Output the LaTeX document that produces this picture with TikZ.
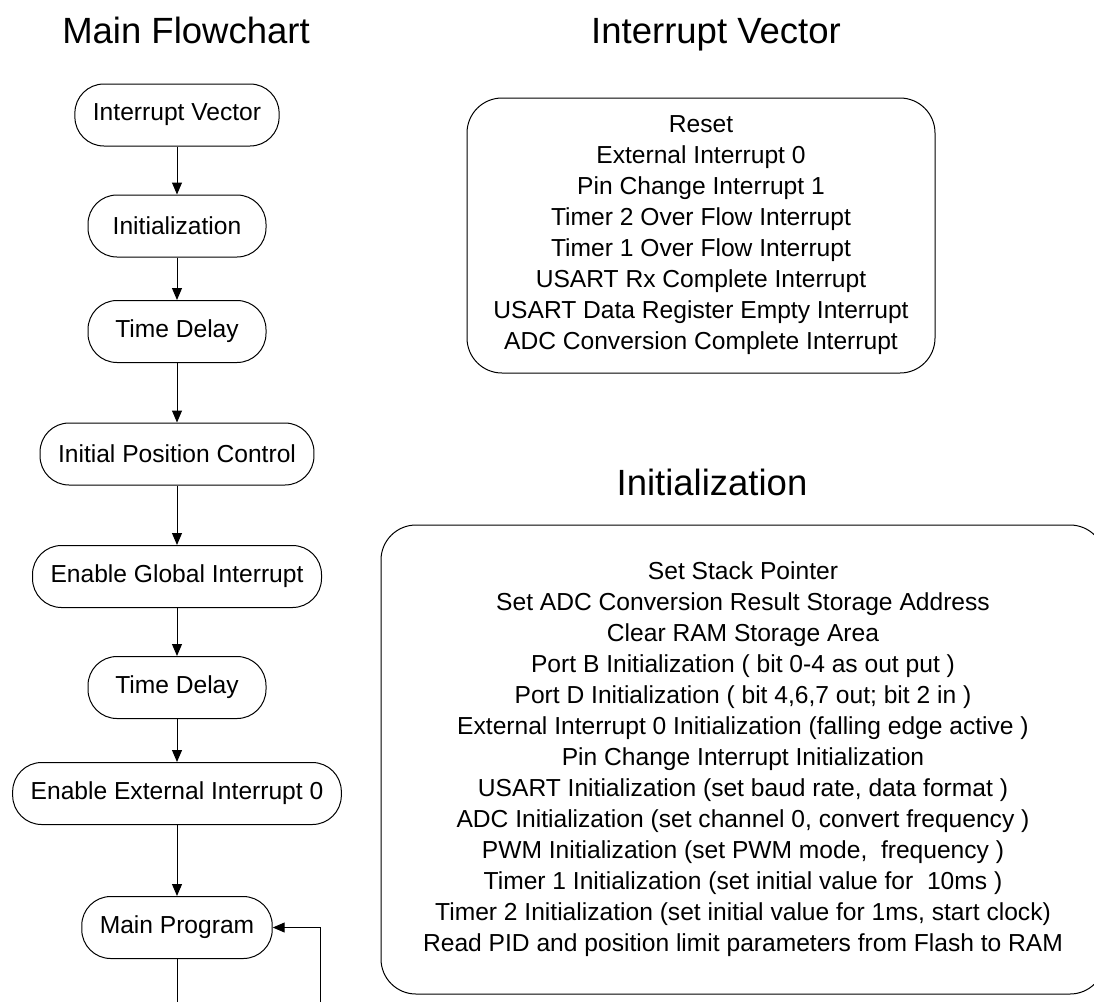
\documentclass[tikz,border=0pt]{standalone}
\usepackage{fontspec}
\setmainfont{Liberation Sans}
\usepackage{tikz}
\usetikzlibrary{arrows.meta,positioning}
\tikzset{
  etapa/.style={rectangle,rounded corners=29pt,draw,line width=1pt,
    minimum width=178pt,minimum height=62pt,inner xsep=18pt,
    font=\fontsize{24.6}{30}\selectfont},
  quadro/.style={rectangle,rounded corners=35pt,draw,line width=1pt,
    align=center,font=\fontsize{24.6}{31}\selectfont},
  titulo/.style={anchor=base,font=\fontsize{36.5}{40}\selectfont},
  seta/.style={-{Triangle[length=12pt,width=10pt]},line width=1pt}
}

\begin{document}
\begin{tikzpicture}[x=1pt,y=-1pt]
  \useasboundingbox (0,0) rectangle (1094,1002);
  % titles
  \node[titulo] (tfluxo) at (186,43) {Main Flowchart};
  \node[titulo] (tvetor) at (716,43) {Interrupt Vector};
  \node[titulo] (tinic) at (712,495) {Initialization};
  % main flowchart
  \foreach \nome/\y/\txt in {ivec/115/Interrupt Vector,inic/226/Initialization,
      atraso/331.5/Time Delay,posini/454/Initial Position Control,
      intglob/576.5/Enable Global Interrupt,atrasob/687.5/Time Delay,
      intext/793.5/Enable External Interrupt 0,mprog/927.5/Main Program}
    {\node[etapa] (\nome) at (177,\y) {\txt};}
  \foreach \a/\b in {ivec/inic,inic/atraso,atraso/posini,posini/intglob,
      intglob/atrasob,atrasob/intext,intext/mprog}
    {\draw[seta] (\a) -- (\b);}
  \coordinate (laco1) at (177,1002);
  \coordinate (laco2) at (320,1002);
  \draw[line width=1pt] (mprog) -- (laco1);
  \draw[seta] (laco2) |- (mprog.east);
  % interrupt vector table
  \node[quadro,minimum width=468pt,minimum height=275pt] (vetor) at (701,235.5)
    {Reset\\External Interrupt 0\\Pin Change Interrupt 1\\
     Timer 2 Over Flow Interrupt\\Timer 1 Over Flow Interrupt\\
     USART Rx Complete Interrupt\\USART Data Register Empty Interrupt\\
     ADC Conversion Complete Interrupt};
  % initialization list
  \node[quadro,minimum width=724pt,minimum height=469pt] (lista) at (743,759.5)
    {Set Stack Pointer\\Set ADC Conversion Result Storage Address\\
     Clear RAM Storage Area\\Port B Initialization ( bit 0-4 as out put )\\
     Port D Initialization ( bit 4,6,7 out; bit 2 in )\\
     External Interrupt 0 Initialization (falling edge active )\\
     Pin Change Interrupt Initialization\\
     USART Initialization (set baud rate, data format )\\
     ADC Initialization (set channel 0, convert frequency )\\
     PWM Initialization (set PWM mode,\ \ frequency )\\
     Timer 1 Initialization (set initial value for\ \ 10ms )\\
     Timer 2 Initialization (set initial value for 1ms, start clock)\\
     Read PID and position limit parameters from Flash to RAM};
\end{tikzpicture}
\end{document}
